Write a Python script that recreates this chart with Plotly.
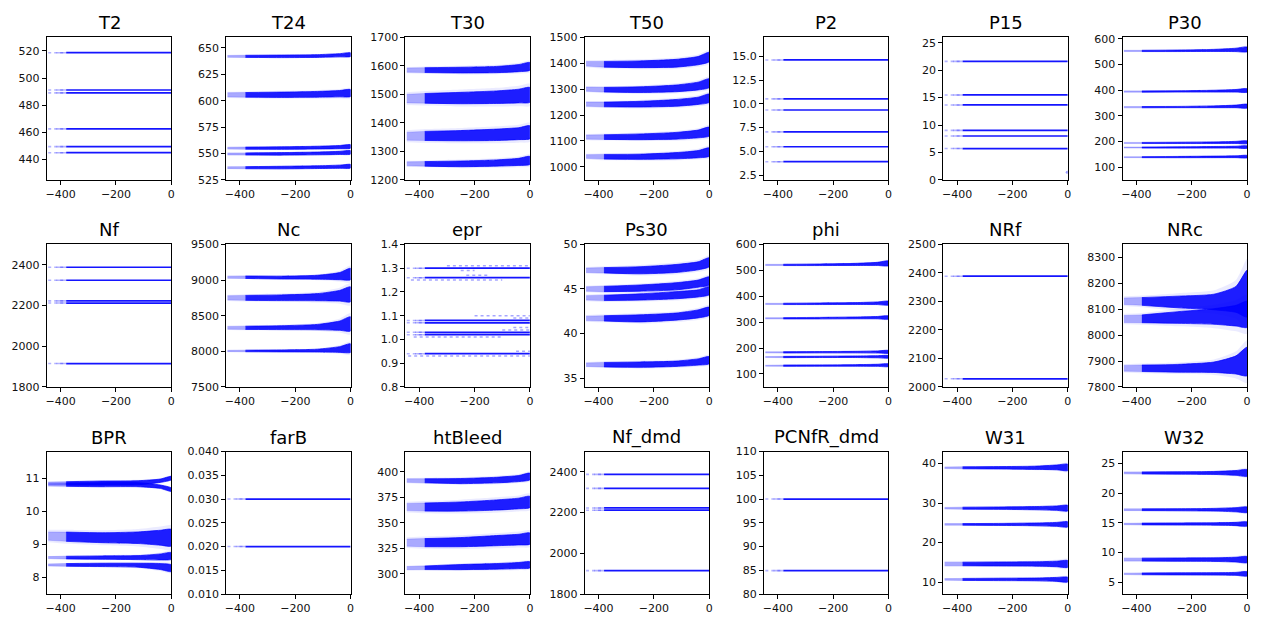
import plotly.graph_objects as go

# ---------------- data ----------------
# x knots (cycles relative to failure) at which band centres / widths were read
X = [-445, -380, -250, -120, -40, 0]

names = ["T2", "T24", "T30", "T50", "P2", "P15", "P30",
         "Nf", "Nc", "epr", "Ps30", "phi", "NRf", "NRc",
         "BPR", "farB", "htBleed", "Nf_dmd", "PCNfR_dmd", "W31", "W32"]

# flat sensors: constant levels
T2_levels = [518.67, 491.19, 489.05, 462.54, 449.44, 445.00]
P2_levels = [14.62, 10.52, 9.35, 7.05, 5.48, 3.91]
P15_levels = [21.61, 15.49, 13.66, 9.03, 8.00, 5.71]
Nf_levels = [2388, 2324, 2223, 2212, 1915]
NRf_levels = [2388.5, 2028.5]
farB_levels = [0.03, 0.02]
Nf_dmd_levels = [2388, 2319, 2223, 2212, 1915]
PCNfR_dmd_levels = [100, 84.93]
epr_levels = [1.30, 1.26, 1.08, 1.07, 1.03, 1.02, 0.94]

# epr sparse quantised levels: level, x start, x end
epr_sparse_lvl = [1.31, 1.29, 1.27, 1.25, 1.10, 1.09, 1.05, 1.04, 1.01, 0.95, 0.93]
epr_sparse_x0 = [-300, -250, -230, -430, -200, -60, -60, -100, -420, -50, -440]
epr_sparse_x1 = [0, -200, -150, -100, 0, 0, 0, 0, -100, 0, 0]

P15_out_x = [-2]
P15_out_y = [1.4]

# banded sensors: centre and full width at the knots X
T24_c = [[642.0, 642.0, 642.0, 642.3, 643.0, 643.6],
         [605.5, 605.5, 605.6, 606.0, 606.6, 607.2],
         [555.0, 555.0, 555.1, 555.5, 556.0, 556.6],
         [549.5, 549.5, 549.6, 550.0, 550.5, 551.0],
         [536.5, 536.5, 536.6, 537.0, 537.4, 537.9]]
T24_w = [[1.8, 2.0, 2.4, 2.6, 3.0, 3.4],
         [4.0, 4.4, 5.0, 5.5, 6.0, 6.5],
         [1.8, 2.0, 2.4, 2.6, 3.0, 3.2],
         [1.8, 2.0, 2.4, 2.6, 3.0, 3.2],
         [1.8, 2.0, 2.4, 2.6, 3.0, 3.2]]

T30_c = [[1585, 1585, 1585, 1587, 1592, 1598],
         [1485, 1486, 1487, 1490, 1494, 1498],
         [1353, 1354, 1355, 1358, 1362, 1367],
         [1256, 1256, 1256, 1259, 1263, 1268]]
T30_w = [[15, 17, 20, 22, 25, 27],
         [30, 34, 40, 44, 48, 52],
         [28, 32, 36, 40, 42, 45],
         [14, 16, 20, 22, 25, 28]]

T50_c = [[1398, 1396, 1396, 1400, 1410, 1424],
         [1300, 1298, 1298, 1303, 1312, 1323],
         [1242, 1241, 1242, 1247, 1255, 1265],
         [1115, 1115, 1116, 1120, 1127, 1136],
         [1040, 1039, 1039, 1043, 1049, 1057]]
T50_w = [[18, 22, 26, 30, 32, 36],
         [16, 18, 22, 26, 30, 34],
         [16, 18, 22, 26, 28, 32],
         [16, 18, 22, 26, 30, 34],
         [14, 18, 20, 24, 28, 32]]

P30_c = [[553.0, 553.0, 553.5, 555.0, 557.0, 559.0],
         [394.5, 394.5, 395.0, 396.0, 397.5, 398.5],
         [333.5, 333.5, 334.0, 335.0, 336.5, 337.5],
         [194.0, 194.0, 194.3, 195.0, 196.0, 196.5],
         [176.0, 176.0, 176.3, 177.0, 177.5, 177.8],
         [138.5, 138.5, 138.8, 139.5, 140.0, 140.5]]
P30_w = [[5, 5, 6, 8, 13, 18],
         [5, 5, 5, 7, 10, 13],
         [5, 5, 5, 7, 10, 14],
         [4, 4, 5, 6, 8, 10],
         [4, 4, 5, 6, 7, 9],
         [4, 4, 5, 6, 7, 9]]

Nc_c = [[9040, 9040, 9035, 9040, 9055, 9085],
        [8750, 8750, 8752, 8760, 8780, 8800],
        [8330, 8330, 8332, 8340, 8360, 8385],
        [8005, 8005, 8006, 8010, 8025, 8045]]
Nc_w = [[30, 35, 40, 55, 100, 160],
        [60, 70, 80, 100, 150, 210],
        [40, 45, 55, 75, 130, 200],
        [20, 22, 28, 40, 80, 120]]

Ps30_c = [[47.1, 47.1, 47.1, 47.3, 47.6, 48.0],
          [45.0, 45.0, 45.1, 45.3, 45.6, 45.9],
          [44.0, 44.0, 44.1, 44.3, 44.5, 44.8],
          [41.7, 41.7, 41.7, 41.9, 42.2, 42.5],
          [36.5, 36.5, 36.5, 36.6, 36.8, 37.0]]
Ps30_w = [[0.5, 0.6, 0.8, 0.9, 0.9, 1.0],
          [0.5, 0.6, 0.7, 0.8, 0.8, 0.9],
          [0.5, 0.6, 0.7, 0.8, 0.8, 0.9],
          [0.5, 0.6, 0.8, 0.8, 0.9, 0.9],
          [0.4, 0.5, 0.6, 0.6, 0.7, 0.8]]

phi_c = [[521.0, 521.0, 521.5, 523.0, 525.0, 527.0],
         [370.5, 370.5, 371.0, 372.0, 373.0, 373.5],
         [315.0, 315.0, 315.5, 316.5, 317.5, 318.0],
         [183.5, 183.5, 184.0, 184.5, 185.0, 185.5],
         [165.5, 165.5, 166.0, 166.5, 166.5, 166.5],
         [132.0, 132.0, 132.5, 133.0, 133.5, 134.0]]
phi_w = [[5, 5, 6, 8, 12, 18],
         [5, 5, 6, 7, 10, 14],
         [5, 5, 6, 7, 9, 12],
         [4, 5, 5, 6, 8, 10],
         [4, 5, 5, 6, 8, 9],
         [4, 5, 5, 6, 8, 10]]

NRc_c = [[8131, 8130, 8128, 8128, 8138, 8160],
         [8062, 8063, 8068, 8072, 8075, 8080],
         [7872, 7872, 7872, 7876, 7885, 7898]]
NRc_w = [[25, 30, 45, 60, 100, 180],
         [27, 30, 45, 60, 80, 100],
         [22, 25, 30, 40, 70, 110]]

BPR_c = [[10.84, 10.84, 10.85, 10.86, 10.92, 11.00],
         [10.80, 10.80, 10.80, 10.80, 10.74, 10.65],
         [9.25, 9.23, 9.20, 9.20, 9.20, 9.20],
         [8.60, 8.60, 8.60, 8.60, 8.62, 8.65],
         [8.38, 8.38, 8.38, 8.37, 8.33, 8.28]]
BPR_w = [[0.08, 0.10, 0.12, 0.12, 0.10, 0.10],
         [0.08, 0.10, 0.12, 0.12, 0.10, 0.10],
         [0.25, 0.28, 0.30, 0.35, 0.45, 0.50],
         [0.06, 0.08, 0.10, 0.12, 0.18, 0.20],
         [0.06, 0.08, 0.10, 0.12, 0.18, 0.20]]

htBleed_c = [[391.5, 391.3, 391.0, 392.0, 393.5, 395.5],
             [365.5, 365.5, 366.0, 367.5, 369.0, 370.5],
             [330.5, 330.5, 331.0, 332.5, 333.5, 334.5],
             [305.5, 305.8, 306.5, 307.2, 308.0, 308.7]]
htBleed_w = [[3.5, 4.0, 5.0, 5.5, 6.0, 6.5],
             [7.0, 8.0, 9.0, 10.0, 10.5, 11.0],
             [7.0, 8.0, 9.0, 10.0, 10.5, 11.0],
             [3.0, 3.5, 5.0, 5.5, 6.0, 6.0]]

W31_c = [[38.9, 38.9, 38.9, 38.9, 39.0, 39.0],
         [28.7, 28.7, 28.7, 28.7, 28.7, 28.7],
         [24.6, 24.6, 24.6, 24.6, 24.6, 24.6],
         [14.6, 14.6, 14.6, 14.6, 14.6, 14.6],
         [10.7, 10.7, 10.7, 10.7, 10.7, 10.65]]
W31_w = [[0.4, 0.5, 0.6, 0.8, 1.2, 1.6],
         [0.4, 0.5, 0.6, 0.8, 1.1, 1.4],
         [0.4, 0.4, 0.5, 0.7, 1.0, 1.3],
         [0.9, 0.9, 1.0, 1.1, 1.4, 1.7],
         [0.4, 0.5, 0.6, 0.7, 1.0, 1.2]]

W32_c = [[23.4, 23.4, 23.4, 23.4, 23.4, 23.4],
         [17.2, 17.2, 17.2, 17.2, 17.2, 17.2],
         [14.8, 14.8, 14.8, 14.8, 14.8, 14.8],
         [8.8, 8.8, 8.8, 8.8, 8.8, 8.8],
         [6.4, 6.4, 6.4, 6.4, 6.4, 6.4]]
W32_w = [[0.30, 0.35, 0.40, 0.50, 0.80, 1.10],
         [0.30, 0.30, 0.35, 0.45, 0.70, 0.90],
         [0.25, 0.30, 0.35, 0.40, 0.55, 0.70],
         [0.50, 0.50, 0.55, 0.60, 0.80, 1.00],
         [0.25, 0.30, 0.35, 0.40, 0.50, 0.70]]

# axis settings: y range, tick0, dtick, tick format
y_ranges = [[425, 530], [525, 660], [1200, 1700], [950, 1500], [2, 17], [0, 26], [50, 606],
            [1800, 2500], [7500, 9500], [0.8, 1.4], [34, 50], [50, 600], [2000, 2500], [7800, 8350],
            [7.5, 11.8], [0.01, 0.04], [280, 420], [1800, 2500], [80, 110], [7, 43], [3, 27]]
y_tick0 = [440, 525, 1200, 1000, 2.5, 0, 100,
           1800, 7500, 0.8, 35, 100, 2000, 7800,
           8, 0.01, 300, 1800, 80, 10, 5]
y_dtick = [20, 25, 100, 100, 2.5, 5, 100,
           200, 500, 0.1, 5, 100, 100, 100,
           1, 0.005, 25, 200, 5, 10, 5]
y_fmt = ["d", "d", "d", "d", ".1f", "d", "d",
         "d", "d", ".1f", "d", "d", "d", "d",
         "d", ".3f", "d", "d", "d", "d", "d"]
x_range = [-450, 0]
x_ticks = [-400, -200, 0]

flat = {"T2": T2_levels, "P2": P2_levels, "P15": P15_levels, "Nf": Nf_levels,
        "NRf": NRf_levels, "farB": farB_levels, "Nf_dmd": Nf_dmd_levels,
        "PCNfR_dmd": PCNfR_dmd_levels, "epr": epr_levels}
bands = {"T24": (T24_c, T24_w), "T30": (T30_c, T30_w), "T50": (T50_c, T50_w),
         "P30": (P30_c, P30_w), "Nc": (Nc_c, Nc_w), "Ps30": (Ps30_c, Ps30_w),
         "phi": (phi_c, phi_w), "NRc": (NRc_c, NRc_w), "BPR": (BPR_c, BPR_w),
         "htBleed": (htBleed_c, htBleed_w), "W31": (W31_c, W31_w), "W32": (W32_c, W32_w)}

# ---------------- figure ----------------
W, H = 1264, 627
BLUE = "0,0,255"
fig = go.Figure()
layout = dict(width=W, height=H, margin=dict(l=0, r=0, t=0, b=0),
              paper_bgcolor="white", plot_bgcolor="white", showlegend=False,
              font=dict(family="DejaVu Sans", color="#000000", size=11))
annotations = []

col_left = [46 + 180 * i for i in range(7)]
row_top = [32, 243.5, 455]
ax_w, ax_h = 125, 145.5


def band_poly(xs, c, w, scale):
    up = [ci + wi * scale / 2 for ci, wi in zip(c, w)]
    lo = [ci - wi * scale / 2 for ci, wi in zip(c, w)]
    return xs + xs[::-1], up + lo[::-1]


for k, name in enumerate(names):
    r, cidx = divmod(k, 7)
    xa = "x" if k == 0 else f"x{k + 1}"
    ya = "y" if k == 0 else f"y{k + 1}"
    xkey = "xaxis" if k == 0 else f"xaxis{k + 1}"
    ykey = "yaxis" if k == 0 else f"yaxis{k + 1}"
    x0 = col_left[cidx] / W
    x1 = (col_left[cidx] + ax_w) / W
    y1 = 1 - row_top[r] / H
    y0 = 1 - (row_top[r] + ax_h) / H
    axis_common = dict(showline=True, linecolor="black", linewidth=1, mirror=True,
                       ticks="outside", ticklen=4, tickwidth=1, tickcolor="black",
                       showgrid=False, zeroline=False,
                       tickfont=dict(family="DejaVu Sans", size=11, color="#111"))
    layout[xkey] = dict(domain=[x0, x1], range=x_range, tickmode="array", tickvals=x_ticks,
                        anchor=ya, **axis_common)
    layout[ykey] = dict(domain=[y0, y1], range=y_ranges[k], tick0=y_tick0[k], dtick=y_dtick[k],
                        tickformat=y_fmt[k], anchor=xa, **axis_common)
    annotations.append(dict(text=name, x=(x0 + x1) / 2, y=y1, xref="paper", yref="paper",
                            xanchor="center", yanchor="bottom", yshift=2, showarrow=False,
                            font=dict(family="DejaVu Sans", size=18, color="black")))

    if name in flat:
        for lv in flat[name]:
            fig.add_trace(go.Scatter(x=[X[0], X[1]], y=[lv, lv], mode="lines",
                                     line=dict(color=f"rgba({BLUE},0.3)", width=1.6, dash="dot"),
                                     xaxis=xa, yaxis=ya, hoverinfo="skip"))
            fig.add_trace(go.Scatter(x=[X[0] + 30, X[1]], y=[lv, lv], mode="lines",
                                     line=dict(color=f"rgba({BLUE},0.3)", width=1.6),
                                     xaxis=xa, yaxis=ya, hoverinfo="skip"))
            fig.add_trace(go.Scatter(x=[X[1], X[-1]], y=[lv, lv], mode="lines",
                                     line=dict(color=f"rgba({BLUE},0.92)", width=1.7),
                                     xaxis=xa, yaxis=ya, hoverinfo="skip"))
    if name == "epr":
        for lv, a, b in zip(epr_sparse_lvl, epr_sparse_x0, epr_sparse_x1):
            fig.add_trace(go.Scatter(x=[a, b], y=[lv, lv], mode="lines",
                                     line=dict(color=f"rgba({BLUE},0.35)", width=1.5, dash="dot"),
                                     xaxis=xa, yaxis=ya, hoverinfo="skip"))
    if name == "P15":
        fig.add_trace(go.Scatter(x=P15_out_x, y=P15_out_y, mode="markers",
                                 marker=dict(color=f"rgba({BLUE},0.4)", size=3),
                                 xaxis=xa, yaxis=ya, hoverinfo="skip"))
    if name in bands:
        cs, ws = bands[name]
        for c, w in zip(cs, ws):
            # faint halo of scattered points
            px, py = band_poly(X, c, w, 1.5)
            fig.add_trace(go.Scatter(x=px, y=py, mode="lines", fill="toself",
                                     fillcolor=f"rgba({BLUE},0.08)", line=dict(width=0, shape="spline", smoothing=0.6),
                                     xaxis=xa, yaxis=ya, hoverinfo="skip"))
            # sparse early part
            px, py = band_poly(X[:2], c[:2], w[:2], 1.0)
            fig.add_trace(go.Scatter(x=px, y=py, mode="lines", fill="toself",
                                     fillcolor=f"rgba({BLUE},0.28)",
                                     line=dict(width=0.6, color=f"rgba({BLUE},0.25)"),
                                     xaxis=xa, yaxis=ya, hoverinfo="skip"))
            # dense main part
            px, py = band_poly(X[1:], c[1:], w[1:], 1.0)
            fig.add_trace(go.Scatter(x=px, y=py, mode="lines", fill="toself",
                                     fillcolor=f"rgba({BLUE},0.88)",
                                     line=dict(width=0.8, color=f"rgba({BLUE},0.88)",
                                               shape="spline", smoothing=0.6),
                                     xaxis=xa, yaxis=ya, hoverinfo="skip"))

layout["annotations"] = annotations
fig.update_layout(**layout)
fig.write_html("out.html")
